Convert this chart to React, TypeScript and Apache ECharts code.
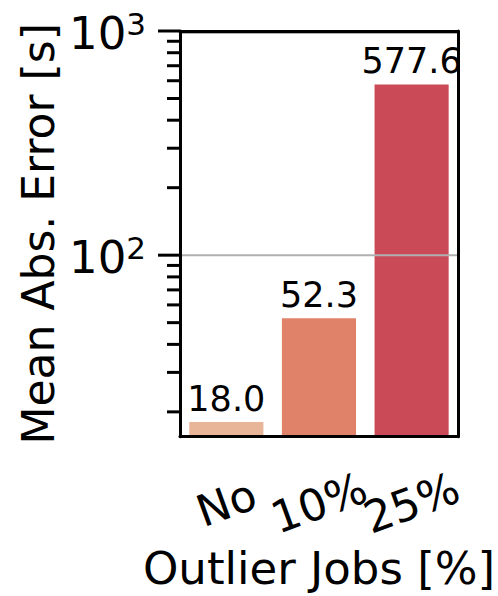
import React, { useEffect, useRef } from "react";
import * as echarts from "echarts";

const categories = ["No", "10%", "25%"];
const values = [18.0, 52.3, 577.6];
const barColors = ["#E8B598", "#E0826A", "#CA4A57"];
const yMin = 15.5;
const yMax = 1000;
const majorTicks = [100, 1000];
const minorTicks = [20, 30, 40, 50, 60, 70, 80, 90, 200, 300, 400, 500, 600, 700, 800, 900];
const majorLabels = ["2", "3"];

const FONT = "DejaVu Sans";

export default function App() {
  const ref = useRef<HTMLDivElement>(null);
  useEffect(() => {
    if (!ref.current) return;
    const chart = echarts.init(ref.current, undefined, { renderer: "svg" });
    const tickData: any[] = [
      ...minorTicks.map((v) => [0, v, 0, ""]),
      ...majorTicks.map((v, i) => [0, v, 1, majorLabels[i]]),
    ];
    const spine = { show: true, lineStyle: { color: "#000", width: 3 } };
    chart.setOption({
      animation: false,
      backgroundColor: "#ffffff",
      grid: {
        left: 180,
        right: 37,
        top: 31,
        bottom: 156,
      },
      xAxis: [
        {
          type: "category",
          data: categories,
          z: 10,
          axisLine: spine,
          axisTick: { alignWithLabel: true, length: 20, lineStyle: { color: "#000", width: 3 } },
          axisLabel: {
            fontFamily: FONT,
            fontSize: 44,
            color: "#000",
            rotate: 20,
            align: "center",
            verticalAlign: "middle",
            margin: 66,
            interval: 0,
          },
          name: "Outlier Jobs [%]",
          nameLocation: "middle",
          nameGap: 108,
          nameTextStyle: { fontFamily: FONT, fontSize: 45, color: "#000", lineHeight: 45 },
          splitLine: { show: false },
        },
        {
          type: "category",
          data: categories,
          position: "top",
          z: 10,
          axisLine: spine,
          axisTick: { show: false },
          axisLabel: { show: false },
          splitLine: { show: false },
        },
      ],
      yAxis: [
        {
          type: "log",
          min: yMin,
          max: yMax,
          z: 10,
          axisLine: spine,
          axisTick: { show: false },
          axisLabel: { show: false },
          splitLine: { show: false },
          minorTick: { show: false },
          name: "Mean Abs. Error [s]",
          nameLocation: "middle",
          nameGap: 120,
          nameRotate: 90,
          nameTextStyle: { fontFamily: FONT, fontSize: 44, color: "#000", lineHeight: 44 },
        },
        {
          type: "log",
          min: yMin,
          max: yMax,
          position: "right",
          z: 10,
          axisLine: spine,
          axisTick: { show: false },
          axisLabel: { show: false },
          splitLine: { show: false },
          minorTick: { show: false },
        },
      ],
      series: [
        {
          type: "bar",
          data: values.map((v, i) => ({ value: v, itemStyle: { color: barColors[i] } })),
          barWidth: "80%",
          label: {
            show: true,
            position: "top",
            distance: 6,
            fontFamily: FONT,
            fontSize: 35,
            color: "#000",
            formatter: (p: any) => Number(p.value).toFixed(1),
          },
          z: 2,
        },
        {
          type: "custom",
          data: tickData,
          clip: false,
          z: 3,
          silent: true,
          renderItem: (params: any, api: any) => {
            const v = api.value(1);
            const major = api.value(2) === 1;
            const pt = api.coord([0, v]);
            const y = pt[1];
            const cs = params.coordSys;
            const x0 = cs.x;
            const children: any[] = [];
            if (major) {
              children.push({
                type: "line",
                shape: { x1: x0, y1: y + (v === yMax ? 2 : 0), x2: x0 + cs.width, y2: y + (v === yMax ? 2 : 0) },
                style: { stroke: "#b0b0b0", lineWidth: 2 },
                z2: 1,
              });
            }
            children.push({
              type: "line",
              shape: { x1: x0 - (major ? 22 : 13), y1: y, x2: x0, y2: y },
              style: { stroke: "#000", lineWidth: 3 },
              z2: 2,
            });
            if (major) {
              const sup = String(api.value(3));
              children.push({
                type: "text",
                x: x0 - 34,
                y: y + 2,
                style: {
                  text: "{b|10}{s|" + sup + "}",
                  align: "right",
                  verticalAlign: "middle",
                  fill: "#000",
                  fontFamily: FONT,
                  rich: {
                    b: { fontFamily: FONT, fontSize: 45, fill: "#000", lineHeight: 50 },
                    s: { fontFamily: FONT, fontSize: 31, fill: "#000", verticalAlign: "top", lineHeight: 50 },
                  },
                },
                z2: 3,
              });
            }
            return { type: "group", children };
          },
        },
      ],
    });
    return () => chart.dispose();
  }, []);
  return (
    <div
      ref={ref}
      style={{ position: "fixed", left: 0, top: 0, width: 498, height: 596, background: "#fff" }}
    />
  );
}
